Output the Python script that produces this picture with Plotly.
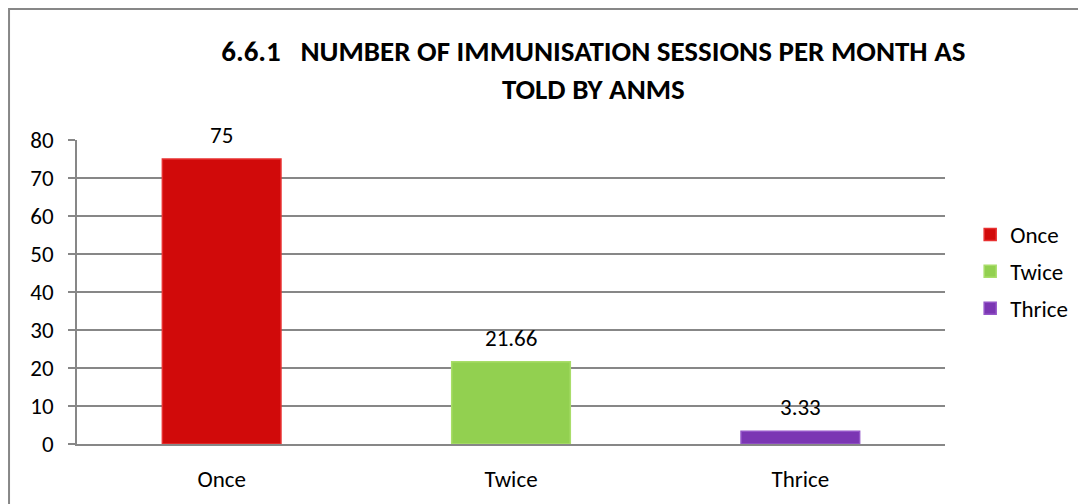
import plotly.graph_objects as go

categories = ["Once", "Twice", "Thrice"]
values = [75, 21.66, 3.33]
labels = ["75", "21.66", "3.33"]
colors = ["#D10A0A", "#92D050", "#7B36B3"]
edges = ["#E83030", "#A9DD6A", "#9455C8"]
y_ticks = [0, 10, 20, 30, 40, 50, 60, 70, 80]

FONT = "Carlito, Lato, sans-serif"
GRAY = "#878787"

fig = go.Figure()
for i, cat in enumerate(categories):
    fig.add_trace(go.Bar(
        x=[cat], y=[values[i]], name=cat, legendgroup=cat,
        marker=dict(color=colors[i], line=dict(color=edges[i], width=1.5)),
        hoverinfo="x+y",
    ))
    # data label above each bar
    fig.add_annotation(x=cat, y=values[i], text=labels[i], showarrow=False,
                       yanchor="middle", yshift=24,
                       font=dict(family=FONT, size=23, color="#000000"))

fig.update_layout(
    width=1086, height=504,
    barmode="overlay", bargap=0.59,
    plot_bgcolor="white", paper_bgcolor="white",
    margin=dict(l=69, r=149, t=132, b=68),
    font=dict(family=FONT, size=23, color="#000000"),
    title=dict(
        text="<b>6.6.1   NUMBER OF IMMUNISATION SESSIONS PER MONTH AS<br>TOLD BY ANMS</b>",
        x=0.539, xref="container", xanchor="center",
        y=0.895, yref="container", yanchor="top",
        font=dict(family=FONT, size=29, color="#000000"),
    ),
    legend=dict(
        x=1.029, xanchor="left", y=0.76, yanchor="top",
        traceorder="grouped", tracegroupgap=4,
        font=dict(family=FONT, size=23), bgcolor="rgba(0,0,0,0)",
    ),
    shapes=[dict(type="rect", xref="paper", yref="paper",
                 x0=-0.0783, x1=1.3, y0=-0.3, y1=1.431,
                 line=dict(color=GRAY, width=2), layer="below")],
)

fig.update_yaxes(
    range=[0, 80], tickvals=y_ticks, showgrid=True, gridcolor=GRAY, gridwidth=1.5,
    showline=True, linecolor=GRAY, linewidth=1.5, ticks="outside", ticklen=7,
    tickcolor=GRAY, tickwidth=1.5, ticklabelstandoff=10, zeroline=False,
)
fig.update_xaxes(
    showline=True, linecolor=GRAY, linewidth=1.5, ticks="", ticklabelstandoff=14,
)

fig.write_html("out.html")
